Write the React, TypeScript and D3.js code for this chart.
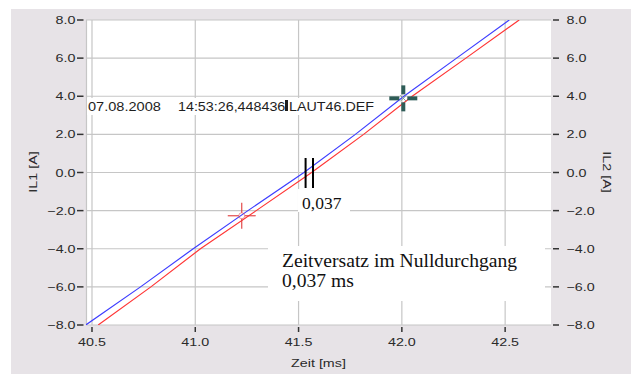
import * as d3 from 'd3';

// current levels (A) and the time (ms) at which each trace passes them
const LEVELS = [-8, -6, -4, -2, 0, 2, 4, 6, 8];
const IL1_T = [40.47, 40.735, 40.99, 41.255, 41.526, 41.775, 42.01, 42.265, 42.52];
const IL2_T = [40.53, 40.785, 41.025, 41.295, 41.563, 41.815, 42.05, 42.31, 42.568];

const X_TICKS = [40.5, 41.0, 41.5, 42.0, 42.5];
const Y_TICKS = [8, 6, 4, 2, 0, -2, -4, -6, -8];

const CURSOR_A = { t: 41.225, v: -2.27 };
const CURSOR_B = { t: 42.007, v: 3.89 };
const ZERO_MARKS = [41.534, 41.57];

const HEADER = ['07.08.2008', '14:53:26,448436', 'LAUT46.DEF'];
const DELTA_LABEL = '0,037';
const NOTE = ['Zeitversatz im Nulldurchgang', '0,037 ms'];

const W = 631;
const H = 374;
const PL = 86, PR = 551, PT = 20, PB = 325;
const SANS = 'Liberation Sans, Arial, sans-serif';
const SERIF = 'Liberation Serif, Times New Roman, serif';
const TXT = '#2a2a2a';
const GRID = '#c6c6c6';

export default function App() {
  const x = d3.scaleLinear().domain([40.471, 42.722]).range([PL, PR]);
  const y = d3.scaleLinear().domain([-8, 8]).range([PB, PT]);

  const line = d3.line<[number, number]>()
    .x((d) => x(d[0]))
    .y((d) => y(d[1]));

  const il1 = line(IL1_T.map((t, i) => [t, LEVELS[i]]));
  const il2 = line(IL2_T.map((t, i) => [t, LEVELS[i]]));

  const fmt = d3.format('.1f');

  const ax = x(CURSOR_A.t), ay = y(CURSOR_A.v);
  const bx = x(CURSOR_B.t), by = y(CURSOR_B.v);

  return (
    <svg width={W} height={H} style={{ position: 'absolute', left: 0, top: 0 }}>
      <defs>
        <clipPath id="plot-clip">
          <rect x={PL} y={PT} width={PR - PL} height={PB - PT} />
        </clipPath>
      </defs>
      <rect x={0} y={0} width={W} height={H} fill="#fff" />
      <rect x={11} y={9} width={W - 11} height={H - 9} fill="#e7e3e7" />
      <rect x={PL} y={PT} width={PR - PL} height={PB - PT} fill="#fff" />

      {/* grid */}
      <line x1={PL + 0.5} x2={PL + 0.5} y1={PT} y2={PB} stroke={GRID} strokeWidth={1.2} />
      {Y_TICKS.map((v) => (
        <line key={'gy' + v} x1={PL} x2={PR} y1={y(v)} y2={y(v)} stroke={GRID} strokeWidth={1.2} />
      ))}
      {X_TICKS.map((t) => (
        <line key={'gx' + t} x1={x(t)} x2={x(t)} y1={PT} y2={PB} stroke={GRID} strokeWidth={1.2} />
      ))}

      {/* traces */}
      <g clipPath="url(#plot-clip)">
        <path d={il1 ?? ''} fill="none" stroke="#3d3dff" strokeWidth={1.2} />
        <path d={il2 ?? ''} fill="none" stroke="#ff3535" strokeWidth={1.2} />
      </g>

      {/* cursor A (red) */}
      <g stroke="#e03a3a" strokeWidth={1.1}>
        <line x1={ax - 14} x2={ax - 3} y1={ay} y2={ay} />
        <line x1={ax + 3} x2={ax + 14} y1={ay} y2={ay} />
        <line x1={ax} x2={ax} y1={ay - 13} y2={ay - 3} />
        <line x1={ax} x2={ax} y1={ay + 3} y2={ay + 13} />
        <circle cx={ax} cy={ay} r={3} fill="none" strokeWidth={0.7} opacity={0.7} />
      </g>

      {/* cursor B (green) */}
      <g stroke="#2e5c57" strokeWidth={4}>
        <line x1={bx - 14} x2={bx - 4} y1={by} y2={by} />
        <line x1={bx + 4} x2={bx + 14} y1={by} y2={by} />
        <line x1={bx} x2={bx} y1={by - 13} y2={by - 4} />
        <line x1={bx} x2={bx} y1={by + 4} y2={by + 13} />
        <line x1={bx - 3} x2={bx + 3} y1={by - 3} y2={by + 3} strokeWidth={1} stroke="#7a9a96" />
        <line x1={bx - 3} x2={bx + 3} y1={by + 3} y2={by - 3} strokeWidth={1} stroke="#7a9a96" />
      </g>

      {/* header label */}
      <rect x={87} y={98} width={291} height={17} fill="#fff" />
      <g fontFamily={SANS} fontSize={13} fill="#1e1e1e">
        <text transform={`translate(88,110.5) scale(1.12,1)`}>{HEADER[0]}</text>
        <text transform={`translate(178,110.5) scale(1.1,1)`}>{HEADER[1]}</text>
        <rect x={285} y={100} width={3} height={11} fill="#1e1e1e" />
        <text transform={`translate(289,110.5) scale(1.1,1)`}>{HEADER[2]}</text>
      </g>

      {/* zero crossing marks */}
      {ZERO_MARKS.map((t) => (
        <line key={'z' + t} x1={x(t)} x2={x(t)} y1={158} y2={188} stroke="#000" strokeWidth={2} />
      ))}
      <rect x={298} y={189} width={52} height={23} fill="#fff" />
      <text x={302} y={208.5} fontFamily={SERIF} fontSize={17.5} fill="#111">{DELTA_LABEL}</text>

      {/* note */}
      <rect x={268} y={246} width={277} height={55} fill="#fff" />
      <g fontFamily={SERIF} fontSize={19.6} fill="#111">
        <text x={282} y={267}>{NOTE[0]}</text>
        <text x={282} y={287}>{NOTE[1]}</text>
      </g>

      {/* axes */}
      <g fontFamily={SANS} fontSize={11} fill={TXT}>
        {Y_TICKS.map((v) => (
          <g key={'ly' + v}>
            <line x1={77} x2={83.5} y1={y(v)} y2={y(v)} stroke="#333" strokeWidth={1.5} />
            <text transform={`translate(75.5,${y(v) + 4}) scale(1.3,1)`} textAnchor="end">{fmt(v)}</text>
            <line x1={553} x2={559} y1={y(v)} y2={y(v)} stroke="#333" strokeWidth={1.5} />
            <text transform={`translate(566.5,${y(v) + 4}) scale(1.3,1)`}>{fmt(v)}</text>
          </g>
        ))}
        {X_TICKS.map((t) => (
          <g key={'bx' + t}>
            <line x1={x(t)} x2={x(t)} y1={327} y2={332} stroke="#333" strokeWidth={1.5} />
            <text transform={`translate(${x(t)},345.5) scale(1.3,1)`} textAnchor="middle">{fmt(t)}</text>
          </g>
        ))}
        <text transform={`translate(${(PL + PR) / 2},366.5) scale(1.3,1)`} textAnchor="middle">Zeit [ms]</text>
        <text transform={`translate(36.5,172) rotate(-90) scale(1.3,1)`} textAnchor="middle">IL1 [A]</text>
        <text transform={`translate(602.5,172) rotate(90) scale(1.3,1)`} textAnchor="middle">IL2 [A]</text>
      </g>
    </svg>
  );
}
